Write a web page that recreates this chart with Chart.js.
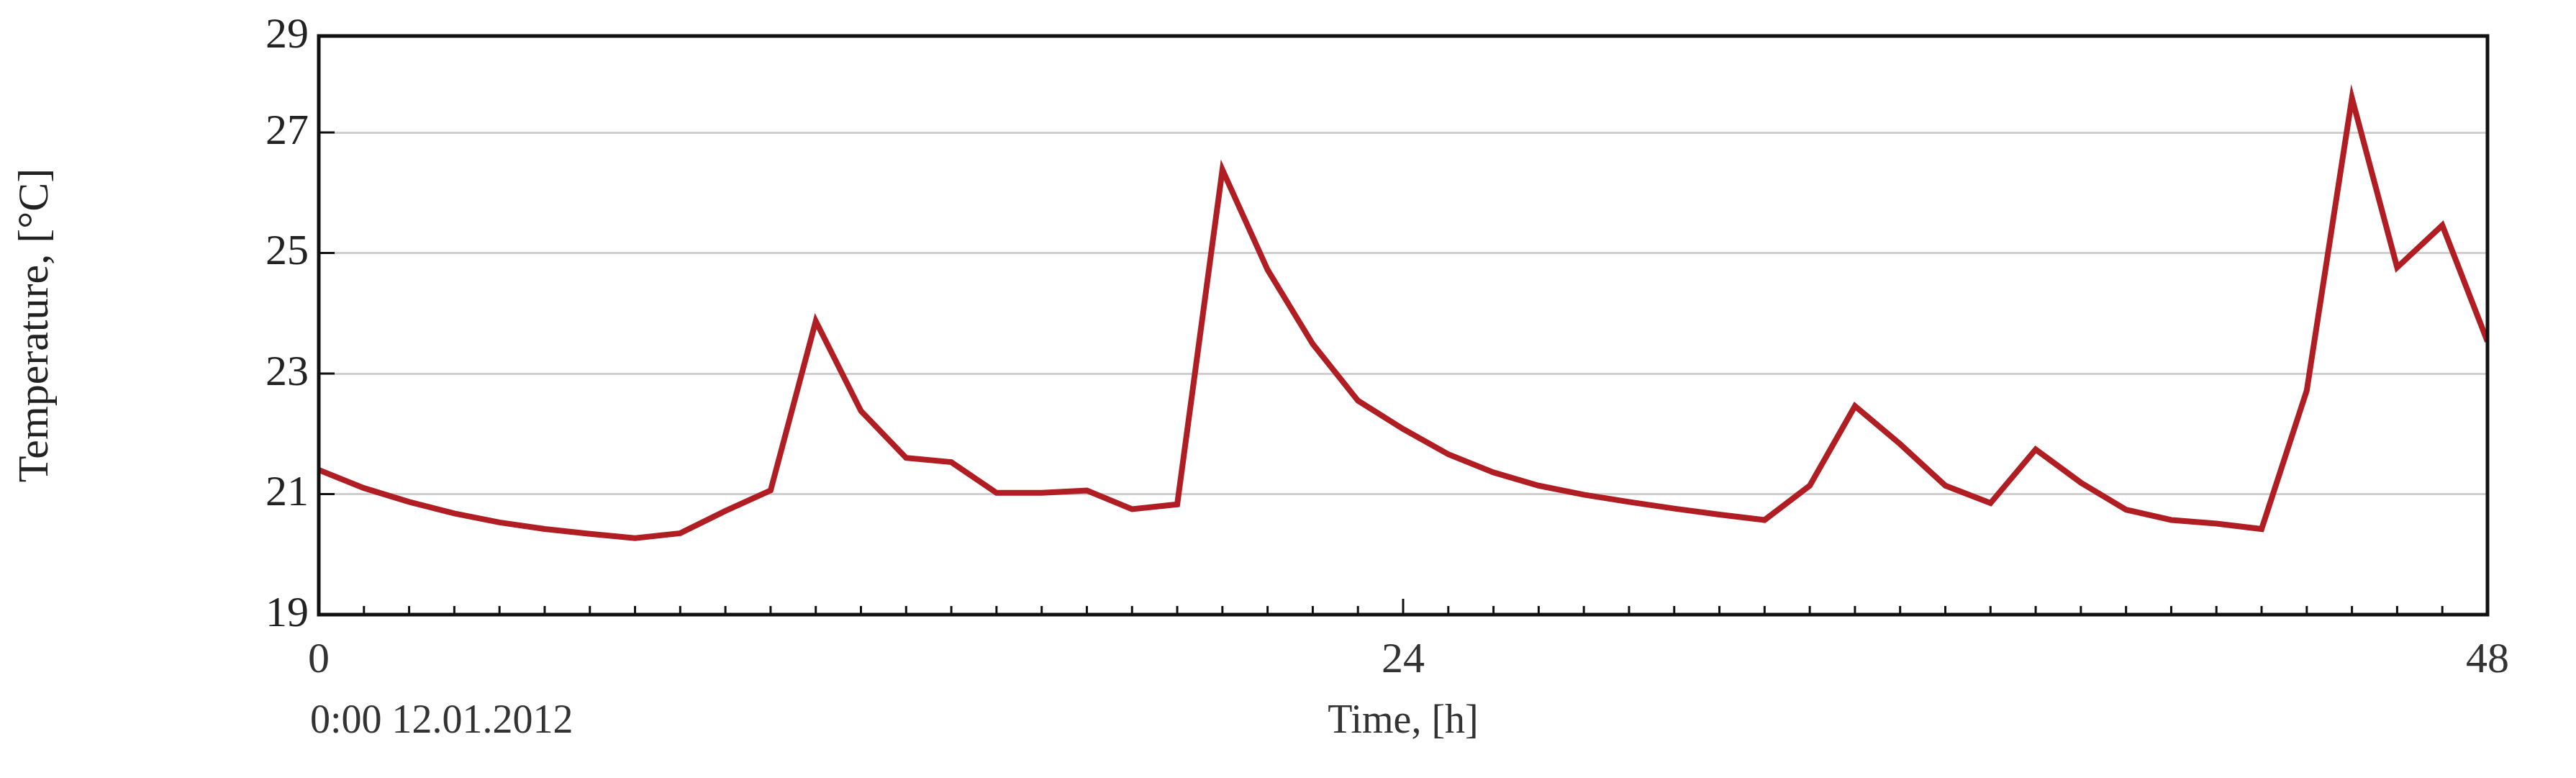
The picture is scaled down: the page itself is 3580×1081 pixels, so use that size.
<!DOCTYPE html>
<html>
<head>
<meta charset="utf-8">
<script src="https://cdn.jsdelivr.net/npm/chart.js@4"></script>
<style>
  html, body { margin: 0; padding: 0; background: #fff; overflow: hidden; }
</style>
</head>
<body>
<canvas id="tempChart" width="3580" height="1081"></canvas>
<script>
const hours = [0,1,2,3,4,5,6,7,8,9,10,11,12,13,14,15,16,17,18,19,20,21,22,23,24,
  25,26,27,28,29,30,31,32,33,34,35,36,37,38,39,40,41,42,43,44,45,46,47,48];
const temperature = [21.40,21.10,20.87,20.68,20.53,20.42,20.34,20.27,20.35,20.72,21.06,23.87,22.38,21.60,21.53,21.02,21.02,21.06,20.75,20.83,
  26.38,24.72,23.49,22.55,22.08,21.66,21.36,21.14,20.99,20.87,20.76,20.66,20.57,21.14,22.46,21.83,21.14,20.85,21.74,21.19,
  20.74,20.57,20.51,20.42,22.72,27.57,24.76,25.46,23.53];
const yTicks = [19, 21, 23, 25, 27];
const xLabels = [0, 24, 48];

const serif = '"Liberation Serif", "DejaVu Serif", serif';
const textColor = '#333';

// frame, inward ticks and the date / axis caption
const framePlugin = {
  id: 'frame',
  afterDraw(chart) {
    const { ctx, chartArea: a, scales: { x, y } } = chart;
    ctx.save();
    ctx.strokeStyle = '#111';
    ctx.lineWidth = 5;
    ctx.strokeRect(a.left, a.top, a.right - a.left, a.bottom - a.top);
    ctx.lineWidth = 3;
    hours.forEach(h => {
      const px = x.getPixelForValue(h);
      const len = h === 24 ? 22 : 12;
      ctx.beginPath(); ctx.moveTo(px, a.bottom); ctx.lineTo(px, a.bottom - len); ctx.stroke();
    });
    yTicks.forEach(v => {
      const py = y.getPixelForValue(v);
      ctx.beginPath(); ctx.moveTo(a.left, py); ctx.lineTo(a.left + 22, py); ctx.stroke();
    });
    ctx.fillStyle = textColor;
    ctx.font = '56px ' + serif;
    ctx.textBaseline = 'middle';
    ctx.textAlign = 'left';
    ctx.fillText('0:00 12.01.2012', a.left - 12, 1003);
    ctx.textAlign = 'center';
    ctx.fillText('Time, [h]', x.getPixelForValue(24), 1003);
    ctx.restore();
  }
};

new Chart(document.getElementById('tempChart'), {
  type: 'line',
  data: {
    datasets: [{
      data: hours.map((h, i) => ({ x: h, y: temperature[i] })),
      borderColor: '#b01e23',
      borderWidth: 8,
      pointRadius: 0,
      tension: 0
    }]
  },
  options: {
    responsive: false,
    devicePixelRatio: 1,
    animation: false,
    layout: { padding: { top: 46, right: 123, left: 10, bottom: 0 } },
    plugins: { legend: { display: false }, tooltip: { enabled: false } },
    scales: {
      x: {
        type: 'linear',
        min: 0,
        max: 48,
        afterBuildTicks: axis => { axis.ticks = xLabels.map(v => ({ value: v })); },
        afterFit: axis => { axis.height = 227; },
        grid: { display: false, drawTicks: false },
        border: { display: false },
        ticks: { color: textColor, font: { family: serif, size: 60 }, padding: 28, maxRotation: 0 }
      },
      y: {
        min: 19,
        max: 28.6,
        afterBuildTicks: axis => { axis.ticks = yTicks.concat([28.6]).map(v => ({ value: v })); },
        afterFit: axis => { axis.width = 433; },
        grid: { color: '#cfcfcf', lineWidth: 3, drawTicks: false },
        border: { display: false },
        ticks: {
          color: '#222',
          font: { family: serif, size: 60 },
          padding: 14,
          callback: v => v === 28.6 ? '29' : v
        },
        title: {
          display: true,
          text: 'Temperature, [°C]',
          color: '#222',
          font: { family: serif, size: 60 },
          padding: { bottom: 50 }
        }
      }
    }
  },
  plugins: [framePlugin]
});
</script>
</body>
</html>
